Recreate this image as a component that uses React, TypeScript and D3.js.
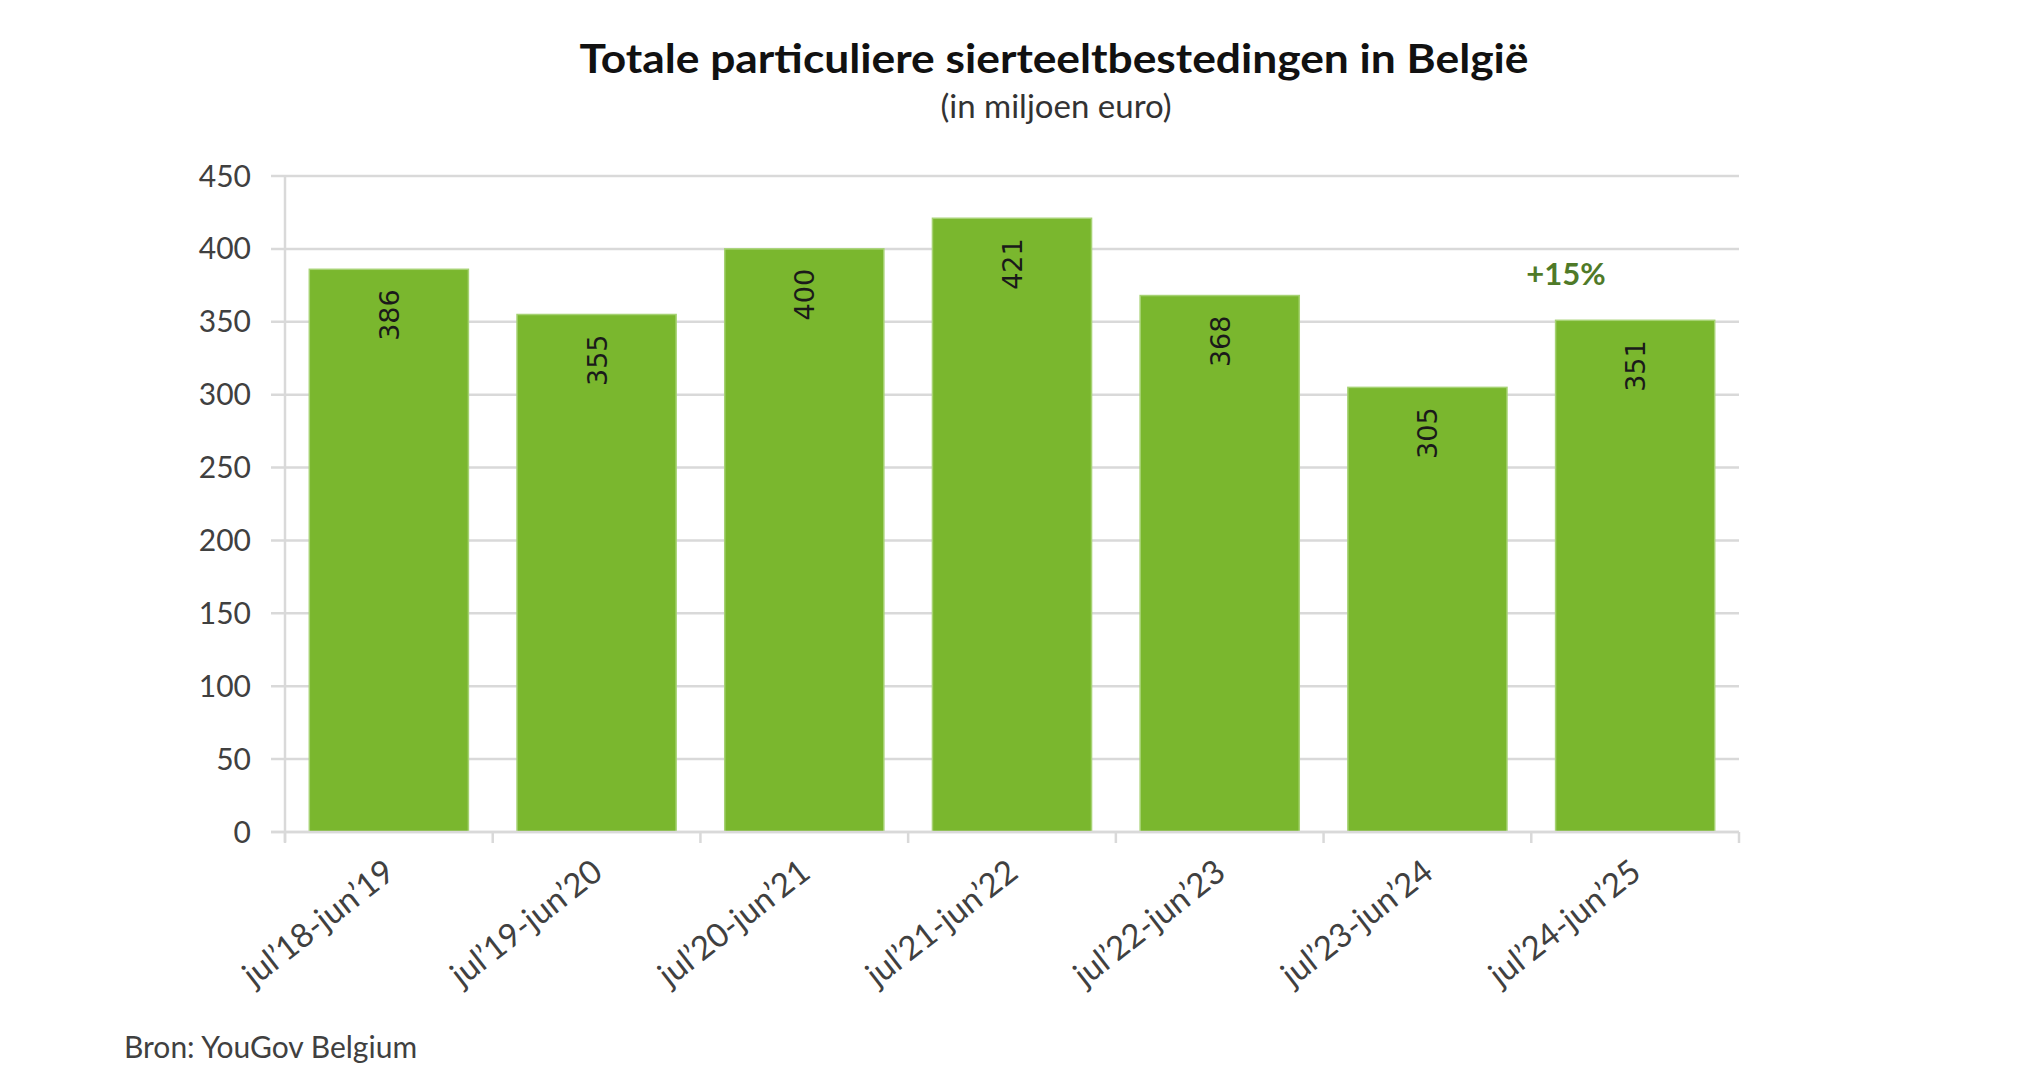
import React, { useEffect, useRef } from 'react';
import * as d3 from 'd3';

const periods = [
    'jul’18-jun’19',
    'jul’19-jun’20',
    'jul’20-jun’21',
    'jul’21-jun’22',
    'jul’22-jun’23',
    'jul’23-jun’24',
    'jul’24-jun’25',
];
const spending = [386, 355, 400, 421, 368, 305, 351];
const yTicks = [0, 50, 100, 150, 200, 250, 300, 350, 400, 450];
const growthLabel = '+15%';

const W = 2030;
const H = 1085;
const calibri = 'Lato, "Open Sans", sans-serif';

const App: React.FC = () => {
    const svgRef = useRef<SVGSVGElement>(null);

    useEffect(() => {
        if (!svgRef.current) return;
        const svg = d3.select(svgRef.current);
        svg.selectAll('*').remove();

        const left = 285;
        const right = 1739;
        const top = 176;
        const bottom = 832;

        const x = d3.scaleBand<string>()
            .domain(periods)
            .range([left, right])
            .paddingInner(0.234)
            .paddingOuter(0.117);

        const y = d3.scaleLinear().domain([0, 450]).range([bottom, top]);

        svg.append('rect').attr('width', W).attr('height', H).attr('fill', 'white');

        // gridlines
        svg.append('g')
            .selectAll('line')
            .data(yTicks)
            .join('line')
            .attr('x1', left - 14)
            .attr('x2', right)
            .attr('y1', d => y(d))
            .attr('y2', d => y(d))
            .attr('stroke', '#d9d9d9')
            .attr('stroke-width', 2.5);

        // y axis line
        svg.append('line')
            .attr('x1', left).attr('x2', left)
            .attr('y1', top).attr('y2', bottom + 10)
            .attr('stroke', '#d9d9d9')
            .attr('stroke-width', 2.5);

        // y tick labels
        svg.append('g')
            .selectAll('text')
            .data(yTicks)
            .join('text')
            .attr('x', 251)
            .attr('y', d => y(d))
            .attr('dy', '0.35em')
            .attr('text-anchor', 'end')
            .attr('font-family', calibri)
            .attr('font-size', 30)
            .attr('fill', '#404040')
            .text(d => d);

        // x axis ticks at band boundaries
        const step = x.step();
        const boundaries = d3.range(periods.length + 1).map(i => left + i * step);
        svg.append('g')
            .selectAll('line')
            .data(boundaries)
            .join('line')
            .attr('x1', d => d).attr('x2', d => d)
            .attr('y1', bottom).attr('y2', bottom + 11)
            .attr('stroke', '#d9d9d9')
            .attr('stroke-width', 2.5);

        // bars
        svg.append('g')
            .selectAll('rect')
            .data(spending)
            .join('rect')
            .attr('x', (d, i) => x(periods[i])!)
            .attr('y', d => y(d))
            .attr('width', x.bandwidth())
            .attr('height', d => bottom - y(d))
            .attr('fill', '#7ab72e')
            .attr('stroke', '#a6d273')
            .attr('stroke-width', 1.5);

        // x axis line
        svg.append('line')
            .attr('x1', left - 14).attr('x2', right)
            .attr('y1', bottom).attr('y2', bottom)
            .attr('stroke', '#d9d9d9')
            .attr('stroke-width', 2.5);

        // value labels (rotated, inside top of bar)
        svg.append('g')
            .selectAll('text')
            .data(spending)
            .join('text')
            .attr('transform', (d, i) => `translate(${x(periods[i])! + x.bandwidth() / 2 + 10},${y(d) + 20}) rotate(-90)`)
            .attr('text-anchor', 'end')
            .attr('font-family', '"DejaVu Sans", sans-serif')
            .attr('font-size', 27)
            .attr('fill', '#1a1a1a')
            .text(d => d);

        // x labels (slanted a little under 45 degrees, as in the source picture)
        svg.append('g')
            .selectAll('text')
            .data(periods)
            .join('text')
            .attr('transform', d => `translate(${x(d)! + x.bandwidth() / 2 + 8},${bottom + 44}) rotate(-38)`)
            .attr('text-anchor', 'end')
            .attr('font-family', calibri)
            .attr('font-size', 33)
            .attr('fill', '#404040')
            .text(d => d);

        // growth annotation
        svg.append('text')
            .attr('x', 1566)
            .attr('y', 274)
            .attr('dy', '0.35em')
            .attr('text-anchor', 'middle')
            .attr('font-family', calibri)
            .attr('font-weight', 'bold')
            .attr('font-size', 31)
            .attr('fill', '#4f7a28')
            .text(growthLabel);

        // title
        svg.append('text')
            .attr('x', 1054)
            .attr('y', 73)
            .attr('text-anchor', 'middle')
            .attr('font-family', calibri)
            .attr('font-weight', 'bold')
            .attr('font-size', 41)
            .attr('textLength', 949)
            .attr('lengthAdjust', 'spacingAndGlyphs')
            .attr('fill', '#111')
            .text('Totale particuliere sierteeltbestedingen in België');

        svg.append('text')
            .attr('x', 1056)
            .attr('y', 118)
            .attr('text-anchor', 'middle')
            .attr('font-family', calibri)
            .attr('font-size', 33)
            .attr('fill', '#333')
            .text('(in miljoen euro)');

        svg.append('text')
            .attr('x', 124)
            .attr('y', 1058)
            .attr('font-family', calibri)
            .attr('font-size', 30)
            .attr('fill', '#404040')
            .text('Bron: YouGov Belgium');
    }, []);

    return (
        <svg
            ref={svgRef}
            width={W}
            height={H}
            viewBox={`0 0 ${W} ${H}`}
            style={{ position: 'absolute', left: 0, top: 0 }}
        />
    );
};

export default App;
